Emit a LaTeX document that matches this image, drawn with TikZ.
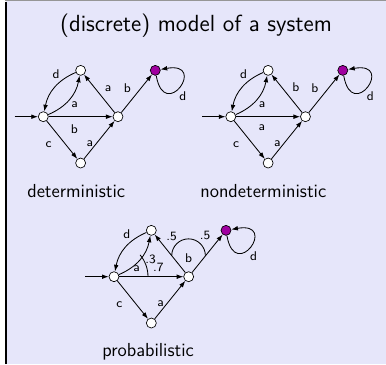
\documentclass[tikz,border=0pt]{standalone}
\usepackage{fontspec}
\usepackage{tikz}
\usetikzlibrary{arrows.meta,positioning,calc}
\definecolor{blockbody}{RGB}{230,230,250}
\definecolor{blockrule}{RGB}{150,150,150}
\definecolor{acceptfill}{RGB}{160,0,160}

\begin{document}
\begin{tikzpicture}[
  x=0.6pt, y=0.6pt,
  node distance=27.8pt and 22.4pt,
  state/.style={
    draw,
    circle,
    fill=white,
    minimum size=6pt,
    inner sep=0pt,
    on grid
  },
  accept/.style={state,fill=acceptfill},
  trans/.style={-{Latex[length=4pt,width=2.8pt]},line width=0.5pt},
  lbl/.style={font=\sffamily\fontsize{7.6}{9}\selectfont,inner sep=1pt},
  caption/.style={font=\sffamily\fontsize{11.3}{13}\selectfont,anchor=base west,inner sep=0pt},
  probarc/.style={line width=0.5pt}
]
\useasboundingbox (0,0) rectangle (386,364);
% block
\fill[blockbody] (6,0) rectangle (386,363);
\draw[blockrule,line width=0.6pt] (5,363.5) -- (386,363.5);
\draw[line width=0.9pt] (5.8,0) -- (5.8,362);
\node[font=\sffamily\fontsize{14}{16}\selectfont,anchor=base] (title) at (196,332.3) {(discrete) model of a system};

% deterministic
\node[state] (d0) at (43.3,247.3) {};
\node[state,above right=of d0] (d1) {};
\node[state,below right=of d0] (d2) {};
\node[state,right=44.8pt of d0] (d3) {};
\node[accept,above right=of d3] (d4) {};
\coordinate[left=14pt of d0] (din);
\draw[trans] (din) -- (d0);
\draw[trans] (d1) to[bend right=28] node[lbl,auto,swap,pos=.3] {d} (d0);
\draw[trans] (d0) to[bend right=28] node[lbl,auto,swap] {a} (d1);
\draw[trans] (d0) -- node[lbl,pos=.4,below,inner sep=4.4pt] {b} (d3);
\draw[trans] (d0) -- node[lbl,pos=.38,auto,swap,inner sep=3.7pt] {c} (d2);
\draw[trans] (d2) -- node[lbl,pos=.31,auto,inner sep=0pt] {a} (d3);
\draw[trans] (d3) -- node[lbl,pos=.44,auto,swap,inner sep=2pt] {a} (d1);
\draw[trans] (d3) -- node[lbl,pos=.43,auto,inner sep=1.9pt] {b} (d4);
\draw[trans] (d4) to[out=-80,in=10,min distance=29pt] node[lbl,pos=.45,below right] {d} (d4);
\node[caption] (detcap) at (27,166.5) {deterministic};

% nondeterministic
\node[state] (n0) at (230.8,247.3) {};
\node[state,above right=of n0] (n1) {};
\node[state,below right=of n0] (n2) {};
\node[state,right=44.8pt of n0] (n3) {};
\node[accept,above right=of n3] (n4) {};
\coordinate[left=14pt of n0] (nin);
\draw[trans] (nin) -- (n0);
\draw[trans] (n1) to[bend right=28] node[lbl,auto,swap,pos=.3] {d} (n0);
\draw[trans] (n0) to[bend right=28] node[lbl,auto,swap] {a} (n1);
\draw[trans] (n0) -- node[lbl,pos=.4,below,inner sep=4.4pt] {a} (n3);
\draw[trans] (n0) -- node[lbl,pos=.38,auto,swap,inner sep=3.7pt] {c} (n2);
\draw[trans] (n2) -- node[lbl,pos=.31,auto,inner sep=0pt] {a} (n3);
\draw[trans] (n3) -- node[lbl,pos=.44,auto,swap,inner sep=2pt] {b} (n1);
\draw[trans] (n3) -- node[lbl,pos=.43,auto,inner sep=1.9pt] {b} (n4);
\draw[trans] (n4) to[out=-80,in=10,min distance=29pt] node[lbl,pos=.45,below right] {d} (n4);
\node[caption] (ndetcap) at (200,166.5) {nondeterministic};

% probabilistic
\node[state] (p0) at (114,87.3) {};
\node[state,above right=of p0] (p1) {};
\node[state,below right=of p0] (p2) {};
\node[state,right=44.8pt of p0] (p3) {};
\node[accept,above right=of p3] (p4) {};
\coordinate[left=14pt of p0] (pin);
\draw[trans] (pin) -- (p0);
\draw[trans] (p1) to[bend right=28] node[lbl,auto,swap,pos=.3] {d} (p0);
\draw[trans] (p0) to[bend right=28] node[lbl,auto,swap,pos=.65,inner sep=0.5pt] {.3} (p1);
\draw[trans] (p0) -- node[lbl,pos=.61,above,inner sep=2.5pt] {.7} (p3);
\draw[trans] (p0) -- node[lbl,pos=.38,auto,swap,inner sep=3.7pt] {c} (p2);
\draw[trans] (p2) -- node[lbl,pos=.31,auto,inner sep=0pt] {a} (p3);
\draw[trans] (p3) -- node[lbl,pos=.74,auto,swap,inner sep=2pt] {.5} (p1);
\draw[trans] (p3) -- node[lbl,pos=.74,auto,inner sep=2.4pt] {.5} (p4);
\draw[trans] (p4) to[out=-80,in=10,min distance=29pt] node[lbl,pos=.45,below right] {d} (p4);
\draw[probarc] ($(p0)+(0:20.4pt)$) arc[start angle=0,end angle=40,radius=20.4pt];
\node[lbl] (pa) at ($(p0)+(13.6pt,5pt)$) {a};
\draw[probarc] ($(p3)+(128.9:16.2pt)$) arc[start angle=180,end angle=0,radius=10.1pt];
\node[lbl] (pb) at ($(p3)+(0,11.3pt)$) {b};
\node[caption] (probcap) at (102,8) {probabilistic};
\end{tikzpicture}
\end{document}
